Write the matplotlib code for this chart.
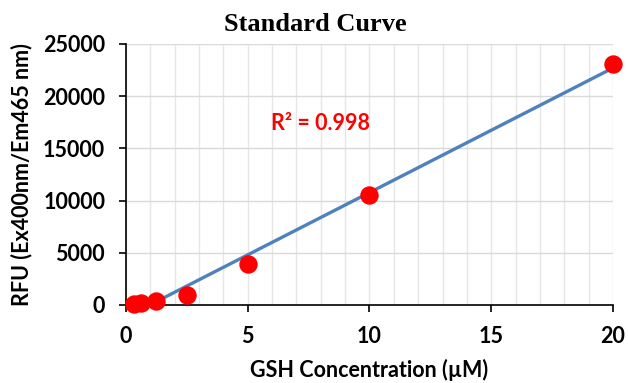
import numpy as np
import matplotlib.pyplot as plt
from matplotlib.ticker import MultipleLocator

conc = [0.3125, 0.625, 1.25, 2.5, 5, 10, 20]
rfu = [100, 150, 400, 1000, 3900, 10550, 23100]
r2_label = 'R² = 0.998'

plt.rcParams['font.family'] = ['Lato', 'DejaVu Sans']

fig = plt.figure(figsize=(6.28, 3.83), dpi=100)
ax = fig.add_axes([0.2006, 0.2037, 0.7755, 0.6815])

# linear trend line through the standards
slope, intercept = np.polyfit(conc, rfu, 1)
xs = np.array([min(conc), max(conc)])
ax.plot(xs, slope * xs + intercept, color='#4F81BD', lw=2.4, zorder=2)
ax.scatter(conc, rfu, s=150, color='#FF0000', zorder=3, clip_on=False)

ax.set_xlim(0, 20)
ax.set_ylim(0, 25000)
ax.xaxis.set_major_locator(MultipleLocator(5))
ax.xaxis.set_minor_locator(MultipleLocator(1))
ax.yaxis.set_major_locator(MultipleLocator(5000))
ax.grid(which='both', axis='x', color='#E6E6E6', lw=1)
ax.grid(which='major', axis='y', color='#D9D9D9', lw=1)
ax.set_axisbelow(True)

for s in ['top', 'right']:
    ax.spines[s].set_visible(False)
for s in ['left', 'bottom']:
    ax.spines[s].set_color('black')
    ax.spines[s].set_linewidth(1.2)
ax.tick_params(which='major', length=5, width=1.2, labelsize=15.5)
ax.tick_params(axis='x', which='major', pad=10)
ax.tick_params(axis='y', which='major', pad=10)
ax.tick_params(which='minor', length=0)
for lab in ax.get_xticklabels() + ax.get_yticklabels():
    lab.set_fontweight('bold')

ax.set_xlabel('GSH Concentration (µM)', fontsize=15.5, fontweight='bold', labelpad=9)
ax.set_ylabel('RFU (Ex400nm/Em465 nm)', fontsize=15.5, fontweight='bold', labelpad=8)
fig.text(0.502, 0.935, 'Standard Curve', family='Liberation Serif', fontsize=19,
         fontweight='bold', ha='center', va='center')
ax.text(5.95, 17400, r2_label, color='#FF0000', fontsize=15.5, fontweight='bold', va='center')

fig.savefig('out.png', dpi=100)
